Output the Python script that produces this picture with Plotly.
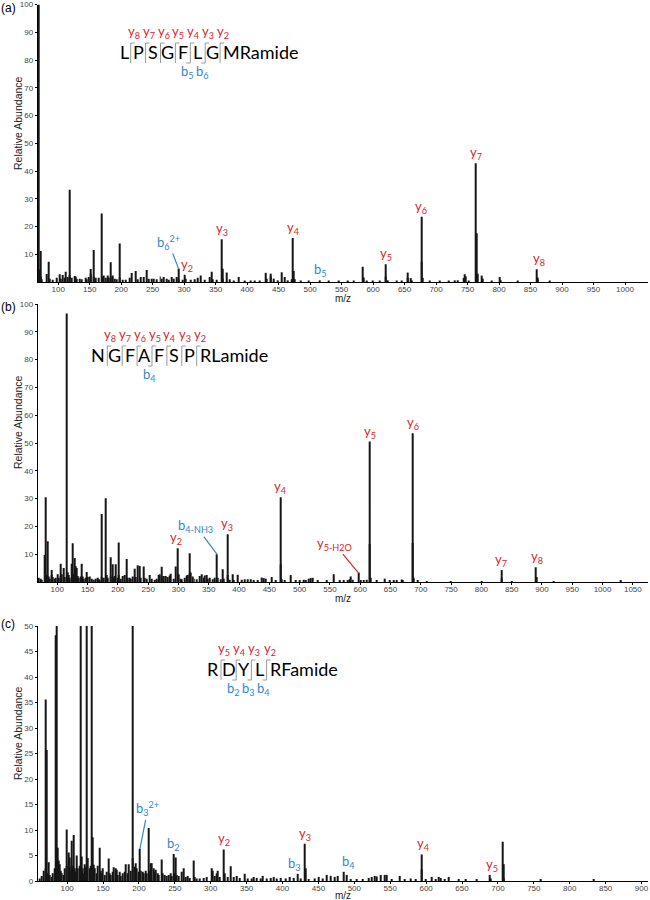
import plotly.graph_objects as go

W, H = 650, 900

# ---------------- data ----------------
# (a) LPSGFLGMRamide
mz_a = [69.5, 70.5, 71.5, 72.5, 74, 82.5, 84.5, 86, 91, 98,
        102, 104, 107, 110, 112.7, 115, 118, 119, 122, 126,
        128, 130, 134, 138, 143, 146, 149, 151, 152, 156,
        157, 160, 164, 169.3, 170.3, 172, 175, 178, 181, 183,
        184, 187, 189, 193, 197.3, 198.3, 203, 208, 214, 217,
        222.7, 226, 231, 236, 240.8, 244, 248, 252, 256, 262,
        265, 268, 272, 276, 280, 284, 288, 291, 292, 297,
        300.5, 303, 310, 316, 322, 327, 333, 340, 343, 345,
        352, 359.8, 360.8, 362, 367, 372, 378, 387, 396, 405,
        412, 420, 430, 431, 437, 438, 442, 448, 455.6, 459,
        465, 470, 473, 474, 476, 485, 498, 516, 530, 545,
        560, 570, 583.6, 584.6, 590, 600, 611, 619.6, 620.6, 624,
        638, 645, 654.5, 655.5, 660, 662, 676.7, 677.7, 679, 690,
        705, 720, 730, 734, 744, 746, 747, 752, 763.5, 764.5,
        765.5, 773, 774, 788, 801, 802, 830, 860, 861, 862,
        880]
ab_a = [100, 4.5, 2, 11.2, 1, 2.9, 7.3, 1.2, 0.8, 1.5,
        2.8, 1.2, 2.5, 1.5, 3.7, 1.8, 33.2, 2.5, 1.5, 2.2,
        2.0, 1.2, 1.2, 1.0, 1.5, 1.0, 1.8, 4.7, 3.0, 11.5,
        2.0, 1.5, 1.5, 24.7, 2.0, 2.3, 1.5, 2.3, 1.5, 7.1,
        2.0, 2.3, 1.2, 1.0, 13.9, 1.5, 0.8, 0.8, 1.5, 3.2,
        4.0, 1.0, 1.8, 1.8, 4.3, 1.2, 1.2, 1.2, 1.0, 2.0,
        1.2, 1.8, 1.2, 0.8, 1.8, 1.2, 1.8, 4.9, 1.0, 0.8,
        2.6, 1.2, 0.8, 1.0, 1.5, 2.3, 0.8, 1.8, 3.7, 1.0,
        0.8, 15.4, 4.8, 1.2, 3.4, 1.0, 0.5, 1.8, 0.5, 0.5,
        0.5, 0.5, 3.3, 1.2, 3.0, 2.0, 1.2, 0.6, 3.5, 1.8,
        0.6, 1.0, 15.9, 4.0, 1.0, 0.5, 0.4, 0.6, 0.4, 0.4,
        0.4, 0.5, 5.5, 1.6, 0.5, 0.5, 0.4, 6.4, 2.0, 0.6,
        0.5, 0.4, 3.4, 1.5, 1.4, 0.6, 23.5, 7.3, 1.5, 0.4,
        0.4, 0.3, 0.6, 0.6, 1.5, 2.8, 2.0, 0.5, 42.8, 17.6,
        3.0, 2.3, 1.2, 0.4, 1.8, 0.6, 0.3, 4.6, 1.6, 0.8,
        0.3]

# (b) NGFAFSPRLamide
mz_b = [69, 72, 75, 79, 81.3, 82.3, 84.6, 86, 88, 90,
        91, 93, 96, 98, 101, 103, 105, 106, 108, 111,
        113, 116, 117, 119, 121, 124, 125.3, 126.5, 128, 129,
        130.5, 132, 134, 136, 138, 141, 142, 144, 147, 149,
        151, 154, 157, 160, 163, 166, 168, 170, 172.6, 174,
        176, 180, 181, 184, 187.5, 189, 191, 193, 195, 197,
        199, 201, 202, 205, 208, 211, 215, 216, 219, 222,
        225, 227.7, 230, 233, 236, 238, 242.5, 244, 247, 252,
        256, 260, 264, 267, 269, 271.6, 273, 276, 279, 282,
        285, 288, 292, 296, 299, 300, 303, 306, 310, 313,
        315, 317.8, 319, 321, 323, 326, 330, 335, 338, 341,
        343, 346, 349, 352, 356, 360, 363.5, 365, 369, 373,
        374, 380.5, 381.5, 385, 389, 392, 398, 404, 409, 414,
        420, 425, 430, 437, 440, 444, 454, 460, 468, 469,
        470, 476, 484.6, 494, 500, 507, 510, 515, 518, 522,
        530, 545, 556, 566, 573, 580, 583, 585, 588, 596.7,
        600, 605, 610, 615.4, 616.4, 617.5, 628, 641, 648, 655,
        660, 668, 670, 686.3, 687.3, 688.5, 695, 710, 750, 800,
        833, 834, 850, 890.4, 891.4, 920, 1030]
ab_b = [1.5, 1.2, 0.8, 9.7, 30.5, 2.5, 14.7, 2.0, 1.2, 4.3,
        2.5, 1.8, 1.2, 1.5, 2.8, 1.5, 6.6, 2.2, 2.8, 5.0,
        1.8, 96.6, 3.5, 2.5, 1.5, 6.6, 13.9, 3.0, 8.6, 2.5,
        5.7, 5.0, 2.2, 1.5, 2.0, 6.6, 2.0, 1.2, 1.5, 3.6,
        1.8, 2.0, 1.2, 0.8, 1.2, 1.5, 1.0, 0.8, 24.5, 1.8,
        1.5, 30.1, 2.5, 1.5, 8.9, 2.0, 6.4, 1.5, 2.2, 6.4,
        1.5, 14.2, 2.5, 1.2, 2.2, 2.5, 8.3, 1.5, 1.5, 1.2,
        2.0, 4.8, 1.8, 6.0, 5.8, 1.5, 5.6, 1.5, 1.2, 2.5,
        1.2, 0.8, 1.2, 2.5, 2.8, 5.5, 2.0, 2.2, 2.2, 1.8,
        2.3, 3.0, 1.2, 5.6, 12.1, 2.8, 1.2, 1.0, 1.5, 2.3,
        2.5, 10.3, 3.0, 3.4, 2.0, 1.2, 1.0, 2.2, 2.8, 1.5,
        2.3, 2.5, 1.2, 1.5, 1.0, 1.5, 10.0, 1.5, 1.0, 4.6,
        1.2, 17.2, 2.5, 0.8, 2.8, 0.6, 2.6, 0.8, 1.0, 1.0,
        1.0, 0.6, 0.6, 1.6, 1.4, 1.2, 1.8, 0.5, 30.5, 6.3,
        1.0, 0.6, 2.5, 0.5, 0.5, 0.8, 0.6, 1.2, 1.4, 1.5,
        0.6, 0.5, 2.8, 0.5, 0.6, 0.6, 1.0, 2.0, 0.8, 3.4,
        0.5, 0.4, 0.8, 50.5, 13.7, 1.5, 0.4, 1.2, 0.5, 0.5,
        0.4, 0.9, 0.5, 53.5, 14.0, 1.5, 0.4, 0.3, 0.3, 0.3,
        4.3, 1.3, 0.3, 5.3, 1.8, 0.3, 0.4]

# (c) RDYLRFamide  (axis cut at 50)
mz_c = [62, 65, 68, 69.6, 70.6, 71.4, 72.5, 74, 76, 78,
        80, 82, 83.5, 85, 86, 87, 88, 89, 91, 93,
        95, 97, 99, 100, 101.5, 103, 104, 105, 107, 108,
        109, 110, 112, 113.6, 115, 117, 118.9, 120, 121, 123,
        125, 126, 127.7, 129, 131, 133, 134.7, 135.7, 137, 139,
        141, 143, 145.4, 146.5, 148, 150, 152, 155, 158, 159,
        161, 163, 165, 167, 169, 171, 173, 175, 177, 180,
        182, 184, 186, 188, 191, 192, 193.5, 195, 197, 199,
        201.3, 203, 205, 207, 209, 211, 213.8, 215, 216.5, 218,
        220, 222, 224, 226, 228, 231.5, 233, 236, 239, 241,
        244, 246, 248.3, 250, 251, 253, 256, 259, 262, 265,
        268, 271, 275.7, 277, 281, 285, 290, 295, 301, 303,
        306, 308, 310, 312, 318.6, 319.6, 323, 328, 332, 336,
        341, 347, 352, 357, 360, 364, 369, 373, 378, 383,
        387, 392, 398, 405, 410, 416, 421.5, 425, 430.7, 431.7,
        437, 445, 451, 456, 461, 467, 472, 477, 485.2, 489,
        495, 503, 512, 520, 524, 528, 531, 537, 542, 545,
        552, 563, 570, 578, 585, 593.3, 594.3, 600, 608, 613,
        618, 620, 626, 632, 645, 655, 670, 689, 690, 706.4,
        707.4, 708.5, 760, 833]
ab_c = [0.5, 1.0, 2.0, 35.6, 2.5, 25.7, 1.5, 3.7, 1.2, 0.8,
        1.5, 2.5, 48.2, 50, 6.5, 6.5, 4.0, 3.3, 2.0, 1.5,
        1.2, 2.5, 10.1, 3.0, 5.6, 2.8, 4.6, 2.0, 7.9, 3.0,
        9.0, 2.5, 1.8, 5.0, 2.5, 3.0, 50, 4.8, 2.5, 1.5,
        3.3, 2.8, 50, 4.5, 2.5, 3.0, 50, 8.6, 3.2, 2.5,
        1.5, 3.0, 6.5, 2.0, 1.5, 2.5, 1.2, 1.8, 4.4, 1.5,
        1.2, 1.8, 2.7, 2.5, 2.2, 1.2, 1.8, 1.0, 1.5, 1.8,
        3.3, 1.5, 3.3, 2.0, 50, 4.5, 2.8, 3.5, 2.5, 1.8,
        6.3, 2.0, 1.8, 1.5, 2.0, 1.5, 10.4, 2.0, 3.5, 3.5,
        2.5, 1.8, 2.2, 1.5, 1.2, 4.2, 1.5, 1.2, 1.0, 1.2,
        1.5, 1.0, 5.3, 1.5, 4.6, 1.2, 1.0, 1.8, 2.5, 0.8,
        1.0, 0.6, 4.0, 0.8, 0.5, 0.5, 0.6, 0.8, 2.5, 2.0,
        1.0, 1.5, 2.0, 0.8, 6.2, 1.5, 0.8, 2.9, 0.8, 1.0,
        0.6, 1.4, 0.5, 0.5, 0.8, 0.6, 0.5, 1.0, 0.5, 0.6,
        0.8, 0.5, 0.6, 0.5, 0.8, 0.6, 1.4, 0.5, 7.3, 2.5,
        0.4, 0.5, 0.8, 0.5, 1.2, 1.0, 0.8, 1.0, 1.8, 1.2,
        0.4, 0.3, 0.4, 0.6, 0.8, 1.0, 0.9, 1.2, 1.2, 1.2,
        0.4, 1.0, 0.3, 0.5, 0.3, 5.2, 2.3, 0.4, 0.8, 0.4,
        0.8, 0.6, 0.4, 0.8, 0.4, 0.3, 0.3, 1.2, 0.5, 7.7,
        3.3, 0.6, 0.3, 0.3]

assert len(mz_a) == len(ab_a) and len(mz_b) == len(ab_b) and len(mz_c) == len(ab_c)

xticks_a = list(range(100, 1001, 50))
xticks_b = list(range(100, 1051, 50))
xticks_c = list(range(100, 901, 50))
yticks_a = list(range(10, 101, 10))
yticks_b = list(range(10, 101, 10))
yticks_c = list(range(0, 51, 5))

# sequences: residues before the last cleavage, remaining tail
seq_a, tail_a = ["L", "P", "S", "G", "F", "L", "G"], "MRamide"
seq_b, tail_b = ["N", "G", "F", "A", "F", "S", "P"], "RLamide"
seq_c, tail_c = ["R", "D", "Y", "L"], "RFamide"
yseq_a = ["8", "7", "6", "5", "4", "3", "2"]
yseq_b = ["8", "7", "6", "5", "4", "3", "2"]
yseq_c = ["5", "4", "3", "2"]
bseq_a = {4: "5", 5: "6"}
bseq_b = {3: "4"}
bseq_c = {1: "2", 2: "3", 3: "4"}

# labelled fragment peaks (ion letter, index, m/z of the peak)
ions_a = [("y", "2", 300.5), ("y", "3", 359.8), ("y", "4", 473), ("b", "5", 516),
          ("y", "5", 619.6), ("y", "6", 676.7), ("y", "7", 763.5), ("y", "8", 860)]
ions_b = [("y", "2", 299), ("y", "3", 380.5), ("y", "4", 468), ("y", "5", 615.4),
          ("y", "6", 686.3), ("y", "7", 833), ("y", "8", 890.4)]
ions_c = [("b", "2", 248.3), ("y", "2", 318.6), ("b", "3", 421.5), ("y", "3", 430.7),
          ("b", "4", 485.2), ("y", "4", 593.3), ("y", "5", 689)]
# labelled peaks with leader lines (ion letter, subscript, superscript, m/z)
callouts_a = [("b", "6", "2+", 291)]
callouts_b = [("b", "4-NH3", "", 363.5), ("y", "5-H2O", "", 596.7)]
callouts_c = [("b", "3", "2+", 201.3)]

# ---------------- styling / layout ----------------
RED = "#d3262e"
BLUE = "#3585c9"
SEP = "#9a9a9a"
TICKFONT = dict(family="Liberation Sans, Arial", size=8, color="#444")
LBLFONT = "Lato, Open Sans, sans-serif"

panels = [
    dict(key="", mz=mz_a, ab=ab_a, xr=[67.5, 1036.5], yr=[0, 100], xt=xticks_a, yt=yticks_a,
         top=4.5, bot=282, tag="(a)", tagy=8, ytitle=123, xtitle=298, barw=1.6,
         ions=ions_a, callouts=callouts_a,
         ion_dx={"y2": 3, "y8": 2, "y5": 1},
         call_off=[(-10, -26)],
         seq=seq_a, tail=tail_a, yseq=yseq_a, bseq=bseq_a,
         s0=130.7, sp=14.9, cy=52, first_dx=-6.5),
    dict(key="2", mz=mz_b, ab=ab_b, xr=[67.7, 1075], yr=[0, 100], xt=xticks_b, yt=yticks_b,
         top=304, bot=582, tag="(b)", tagy=307, ytitle=422, xtitle=598, barw=1.65,
         ions=ions_b, callouts=callouts_b,
         ion_dx={"y2": -2, "y8": 1},
         call_off=[(-21, -28), (-24, -29)],
         seq=seq_b, tail=tail_b, yseq=yseq_b, bseq=bseq_b,
         s0=107.3, sp=14.9, cy=355, first_dx=-9.5),
    dict(key="3", mz=mz_c, ab=ab_c, xr=[59, 909], yr=[0, 50], xt=xticks_c, yt=yticks_c,
         top=626, bot=881, tag="(c)", tagy=624, ytitle=733, xtitle=895, barw=1.4,
         ions=ions_c, callouts=callouts_c,
         ion_dx={"b3": -3, "b4": 5, "y4": 2, "y5": 2},
         call_off=[(8, -40)],
         seq=seq_c, tail=tail_c, yseq=yseq_c, bseq=bseq_c,
         s0=221, sp=15.2, cy=669, first_dx=-8),
]

X0, X1 = 37.7, 648.0
fig = go.Figure()
annotations = []
shapes = []
layout = dict(width=W, height=H, margin=dict(l=0, r=0, t=0, b=0),
              paper_bgcolor="white", plot_bgcolor="white", showlegend=False,
              barmode="overlay")


def px(x):
    return x / W


def py(y):
    return 1 - y / H


def paper_text(text, x, y, size, color, family=LBLFONT, xanchor="center", angle=0):
    return dict(text=text, x=px(x), y=py(y), xref="paper", yref="paper", showarrow=False,
                xanchor=xanchor, yanchor="middle", textangle=angle, borderpad=0,
                font=dict(family=family, size=size, color=color))


for p in panels:
    k = p["key"]
    xa, ya = "x" + k, "y" + k
    fig.add_trace(go.Bar(x=p["mz"], y=p["ab"], width=p["barw"], xaxis=xa, yaxis=ya,
                         marker=dict(color="#161616", line=dict(width=0)),
                         hoverinfo="x+y"))
    layout["xaxis" + k] = dict(domain=[px(X0), px(X1)], range=p["xr"], anchor=ya,
                               tickvals=p["xt"], tickfont=TICKFONT, showline=True,
                               linecolor="black", linewidth=1, ticks="outside", ticklen=2,
                               tickcolor="black", showgrid=False, zeroline=False,
                               ticklabelstandoff=-3, automargin=False)
    layout["yaxis" + k] = dict(domain=[py(p["bot"]), py(p["top"])], range=p["yr"], anchor=xa,
                               tickvals=p["yt"], tickfont=TICKFONT, showline=True,
                               linecolor="black", linewidth=1, ticks="outside", ticklen=2,
                               tickcolor="black", showgrid=False, zeroline=False,
                               automargin=False)
    # panel tag and axis titles
    annotations.append(paper_text(p["tag"], 0, p["tagy"], 12, "black",
                                  family="Liberation Sans, Arial", xanchor="left"))
    annotations.append(paper_text("Relative Abundance", 18, p["ytitle"], 10.5, "#222",
                                  family="Liberation Sans, Arial", angle=-90))
    annotations.append(paper_text("m/z", (X0 + X1) / 2, p["xtitle"], 10, "#222",
                                  family="Liberation Sans, Arial"))
    # peak labels
    lookup = dict(zip(p["mz"], p["ab"]))
    for ion, n, m in p["ions"]:
        col = RED if ion == "y" else BLUE
        annotations.append(dict(text=f"{ion}<sub>{n}</sub>", x=m, y=lookup[m], xref=xa, yref=ya,
                                showarrow=False, xanchor="center", yanchor="bottom",
                                xshift=p["ion_dx"].get(ion + n, 0), yshift=-1,
                                font=dict(family=LBLFONT, size=13, color=col)))
    for (ion, sub, sup, m), (ax, ay) in zip(p["callouts"], p["call_off"]):
        col = RED if ion == "y" else BLUE
        txt = f"{ion}<sub>{sub}</sub>" + (f"<sup>{sup}</sup>" if sup else "")
        annotations.append(dict(text=txt, x=m, y=lookup[m], xref=xa, yref=ya,
                                showarrow=True, arrowhead=0, arrowwidth=1.2, arrowcolor=col,
                                ax=ax, ay=ay, standoff=0,
                                font=dict(family=LBLFONT, size=13, color=col)))
    # sequence with cleavage marks
    s0, sp, cy = p["s0"], p["sp"], p["cy"]
    nsep = len(p["seq"])
    seps = [s0 + i * sp for i in range(nsep)]
    for i, res in enumerate(p["seq"]):
        cx = seps[0] + p["first_dx"] if i == 0 else (seps[i - 1] + seps[i]) / 2
        annotations.append(paper_text(res, cx, cy, 18, "black"))
    annotations.append(paper_text(p["tail"], seps[-1] + 2, cy, 18, "black", xanchor="left"))
    top, bot = cy - 9, cy + 11
    for i, sx in enumerate(seps):
        shapes.append(dict(type="line", xref="paper", yref="paper", x0=px(sx), x1=px(sx),
                           y0=py(top), y1=py(bot), line=dict(color=SEP, width=1)))
        shapes.append(dict(type="line", xref="paper", yref="paper", x0=px(sx), x1=px(sx + 4),
                           y0=py(top), y1=py(top), line=dict(color=SEP, width=1)))
        annotations.append(paper_text(f"y<sub>{p['yseq'][i]}</sub>", sx + 3, cy - 20, 13, RED))
        if i in p["bseq"]:
            shapes.append(dict(type="line", xref="paper", yref="paper", x0=px(sx - 4), x1=px(sx),
                               y0=py(bot), y1=py(bot), line=dict(color=SEP, width=1)))
            annotations.append(paper_text(f"b<sub>{p['bseq'][i]}</sub>", sx - 3, cy + 20, 13, BLUE))

layout["annotations"] = annotations
layout["shapes"] = shapes
fig.update_layout(**layout)
fig.write_html("out.html", config={"displayModeBar": False},
               post_script="document.body.style.margin='0';")
